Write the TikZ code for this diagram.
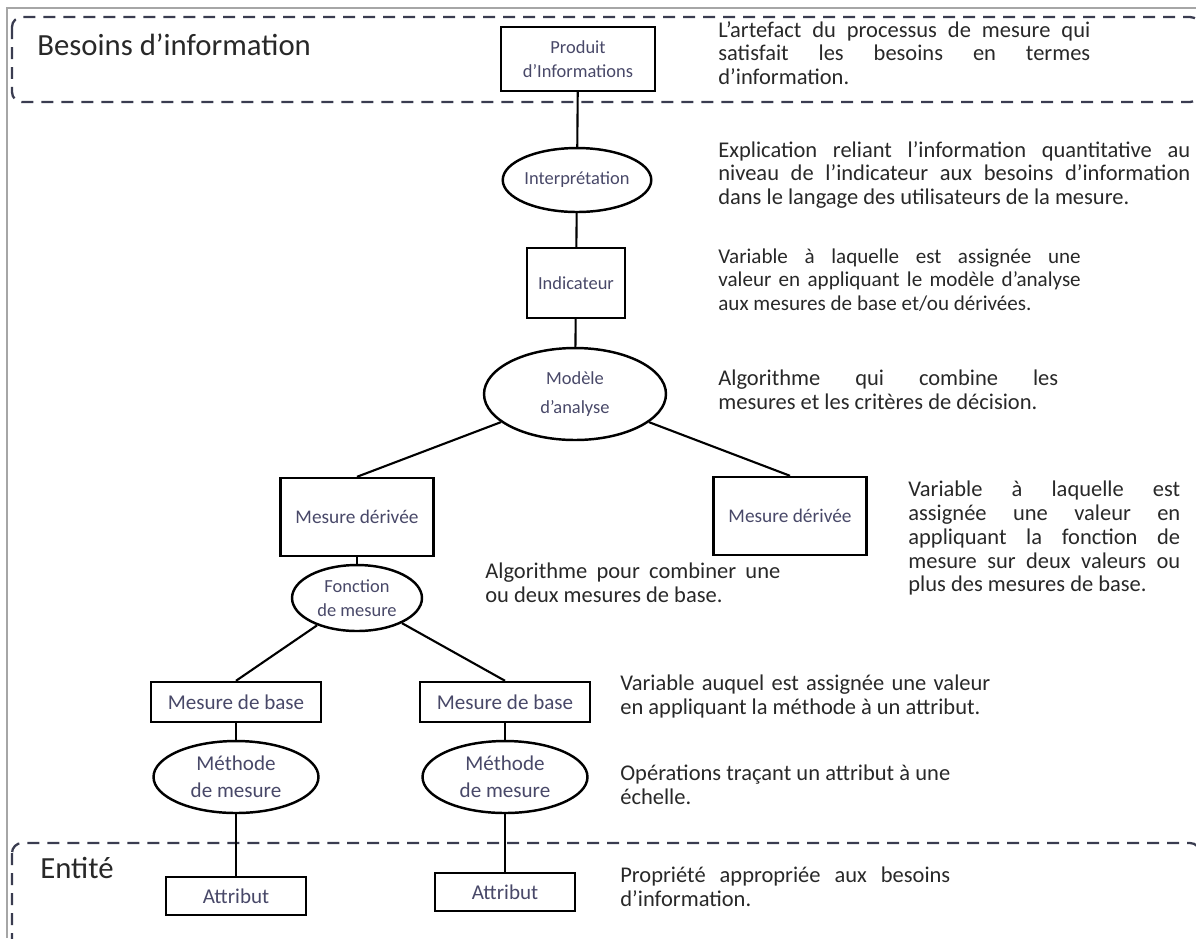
\documentclass[tikz,border=0pt]{standalone}
\usepackage{fontspec}
\setmainfont{Carlito}
\usetikzlibrary{shapes.geometric}
\hyphenpenalty=10000
\exhyphenpenalty=10000

\definecolor{noeud}{RGB}{72,72,104}
\definecolor{texte}{RGB}{40,40,40}
\definecolor{tirets}{RGB}{58,60,80}

\tikzset{
	boite/.style={draw,line width=1.4pt,text=noeud,align=center,inner sep=1pt,font=\fontsize{10.5}{14}\selectfont},
	ovale/.style={draw,ellipse,line width=1.4pt,text=noeud,align=center,inner sep=0pt,font=\fontsize{10.5}{14}\selectfont},
	grand/.style={font=\fontsize{12}{15.5}\selectfont},
	descr/.style={anchor=north west,inner sep=0pt,text=texte,align=justify,font=\fontsize{12.8}{13.5}\selectfont},
	zone/.style={draw=tirets,line width=1.3pt,dash pattern=on 0.24cm off 0.16cm,rounded corners=0.2cm},
	titre/.style={anchor=west,inner sep=0pt,text=texte,font=\fontsize{17.5}{20}\selectfont},
	lien/.style={line width=1.2pt}
}

\begin{document}
\begin{tikzpicture}[x={(0.02cm,0)},y={(0,-0.02cm)}]
	\useasboundingbox (0,0) rectangle (1196,938);
	\clip (0,0) rectangle (1196,938);
	\draw[gray!70,line width=0.6pt] (7,938)--(7,8)--(1196,8);
	% les deux zones
	\draw[zone] (12,17) rectangle (1200,102);
	\draw[zone] (12,843) rectangle (1200,990);
	\node[titre] (besoins) at (37,45) {Besoins d’information};
	\node[titre] (entite) at (40,868) {Entité};

	% colonne du haut
	\node[boite,minimum width=3.08cm,minimum height=1.28cm] (produit) at (578,59) {Produit\\d’Informations};
	\node[ovale,minimum width=2.56cm,minimum height=1.28cm] (interp) at (577,180) {Interprétation};
	\node[boite,minimum width=1.96cm,minimum height=1.4cm] (indic) at (576,283) {Indicateur};
	\node[ovale,minimum width=3.64cm,minimum height=1.84cm,font=\fontsize{10.5}{16.5}\selectfont] (modele) at (575,394) {Modèle\\d’analyse};
	\node[boite,minimum width=3.06cm,minimum height=1.56cm,font=\fontsize{11}{14}\selectfont] (derg) at (357,517) {Mesure dérivée};
	\node[boite,minimum width=3.06cm,minimum height=1.56cm,font=\fontsize{11}{14}\selectfont] (derd) at (790,516) {Mesure dérivée};
	\node[ovale,minimum width=2.6cm,minimum height=1.32cm] (fonction) at (357,598) {Fonction\\de mesure};
	\draw[lien] (produit)--(interp);
	\draw[lien] (interp)--(indic);
	\draw[lien] (indic)--(modele);
	\draw[lien] (modele)--(derg.north);
	\draw[lien] (modele)--(derd.north);
	\draw[lien] (derg)--(fonction);

	% les deux mesures de base
	\foreach \n/\x/\ya in {g/236/896,d/505/892}
		{\node[boite,grand,minimum width=3.4cm,minimum height=0.8cm] (base\n) at (\x,702) {Mesure de base};
		 \node[ovale,grand,minimum width=3.3cm,minimum height=1.44cm] (methode\n) at (\x,777) {Méthode\\de mesure};
		 \node[boite,grand,minimum width=2.8cm,minimum height=0.76cm] (attribut\n) at (\x,\ya) {Attribut};
		 \draw[lien] (fonction)--(base\n.north);
		 \draw[lien] (base\n)--(methode\n);
		 \draw[lien] (methode\n)--(attribut\n);
	};

	% textes explicatifs
	\node[descr,text width=7.44cm] (t1) at (718,21) {L’artefact du processus de mesure qui\linebreak satisfait les besoins en termes\linebreak d’information.};
	\node[descr,text width=9.44cm] (t2) at (718,141) {Explication reliant l’information quantitative au\linebreak niveau de l’indicateur aux besoins d’information\linebreak dans le langage des utilisateurs de la mesure.};
	\node[descr,text width=7.25cm,font=\fontsize{12}{13.5}\selectfont] (t3) at (718,248) {Variable à laquelle est assignée une\linebreak valeur en appliquant le modèle d’analyse\linebreak aux mesures de base et/ou dérivées.};
	\node[descr,text width=6.8cm] (t4) at (718,370) {Algorithme qui combine les\linebreak mesures et les critères de décision.};
	\node[descr,text width=5.44cm] (t5) at (908,481) {Variable à laquelle est\linebreak assignée une valeur en\linebreak appliquant la fonction de\linebreak mesure sur deux valeurs ou\linebreak plus des mesures de base.};
	\node[descr,text width=5.9cm] (t6) at (485,563) {Algorithme pour combiner une\linebreak ou deux mesures de base.};
	\node[descr,text width=7.4cm] (t7) at (620,675) {Variable auquel est assignée une valeur\linebreak en appliquant la méthode à un attribut.};
	\node[descr,text width=6.6cm] (t8) at (620,765) {Opérations traçant un attribut à une\linebreak échelle.};
	\node[descr,text width=6.6cm] (t9) at (620,867) {Propriété appropriée aux besoins\linebreak d’information.};
\end{tikzpicture}
\end{document}
